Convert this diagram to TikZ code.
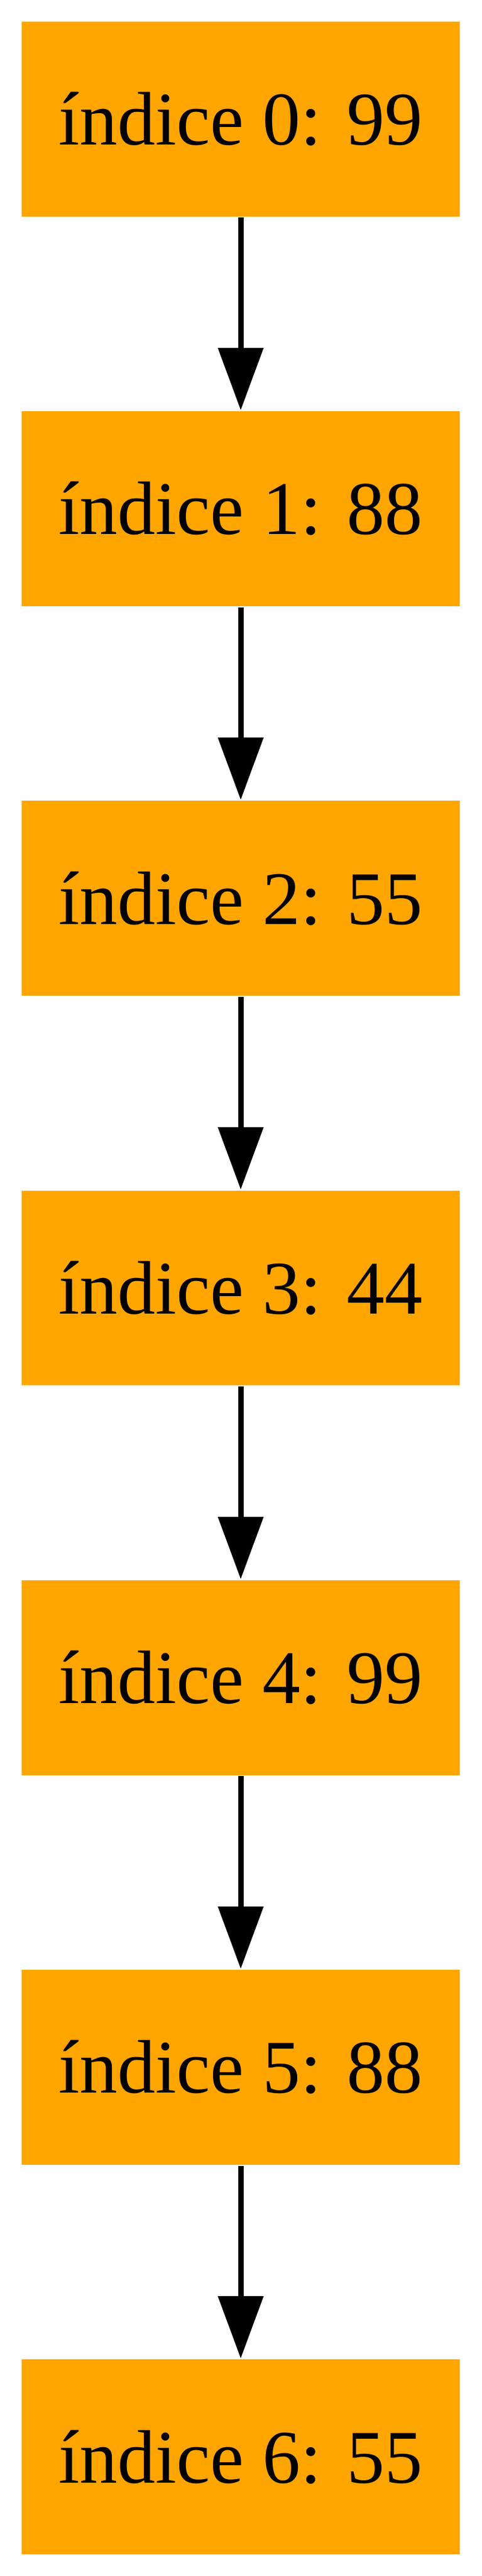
\documentclass[tikz,border=0pt]{standalone}
\usepackage{fontspec}
\setmainfont{Liberation Serif}
\usetikzlibrary{arrows.meta}
\definecolor{gvorange}{HTML}{FFA500}
\tikzset{
  cell/.style={rectangle, fill=gvorange, draw=none, minimum width=81pt, minimum height=36pt, inner sep=0pt, font=\fontsize{14pt}{16pt}\selectfont},
  link/.style={line width=1pt, -{Triangle[length=11.5pt,width=8.2pt]}}
}
\begin{document}
\begin{tikzpicture}[x=1pt,y=1pt]
\useasboundingbox (0,0) rectangle (89,476);
\node[cell] (n0) at (44.5,454) {índice 0: 99};
\node[cell] (n1) at (44.5,382) {índice 1: 88};
\node[cell] (n2) at (44.5,310) {índice 2: 55};
\node[cell] (n3) at (44.5,238) {índice 3: 44};
\node[cell] (n4) at (44.5,166) {índice 4: 99};
\node[cell] (n5) at (44.5,94) {índice 5: 88};
\node[cell] (n6) at (44.5,22) {índice 6: 55};
\draw[link] (n0.south) -- (n1.north);
\draw[link] (n1.south) -- (n2.north);
\draw[link] (n2.south) -- (n3.north);
\draw[link] (n3.south) -- (n4.north);
\draw[link] (n4.south) -- (n5.north);
\draw[link] (n5.south) -- (n6.north);
\end{tikzpicture}
\end{document}
